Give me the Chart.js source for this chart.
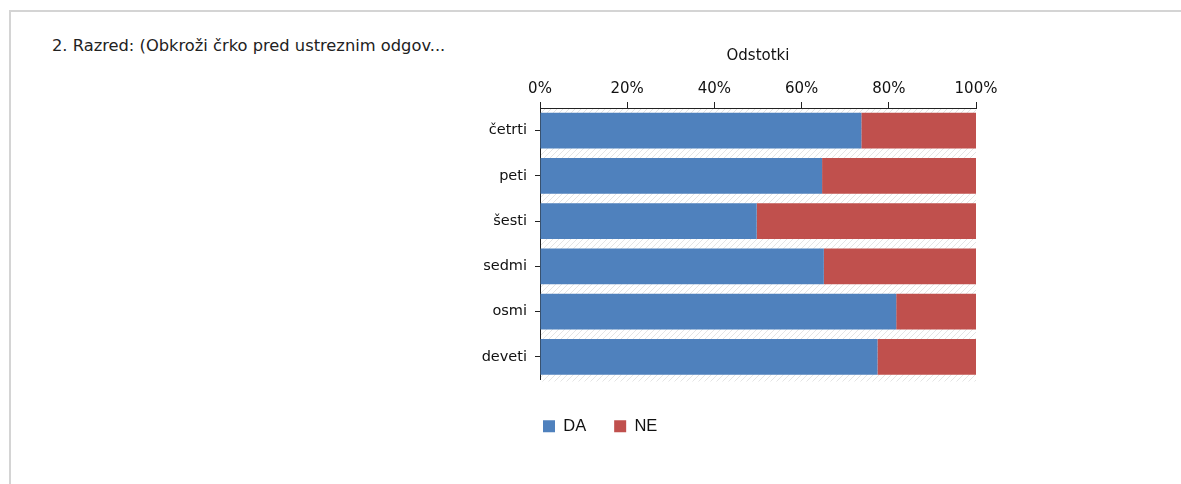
<!DOCTYPE html>
<html>
<head>
<meta charset="utf-8">
<script src="https://cdn.jsdelivr.net/npm/chart.js@4"></script>
<style>
  html,body{margin:0;padding:0;background:#fff;}
  #wrap{position:relative;width:1181px;height:484px;overflow:hidden;}
  #frame{position:absolute;left:9px;top:10px;width:1200px;height:500px;border-top:2px solid #d4d4d4;border-left:2px solid #d4d4d4;box-sizing:border-box;}
  #title{position:absolute;left:52px;top:36px;font-family:"DejaVu Sans",sans-serif;font-size:16.3px;color:#222;white-space:nowrap;}
  canvas{position:absolute;left:0;top:0;}
</style>
</head>
<body>
<div id="wrap">
  <div id="frame"></div>
  <div id="title">2. Razred: (Obkroži črko pred ustreznim odgov...</div>
  <canvas id="c" width="1181" height="484"></canvas>
</div>
<script>
const categories = ["četrti", "peti", "šesti", "sedmi", "osmi", "deveti"];
const daValues = [73.7, 64.7, 49.7, 65.1, 81.7, 77.4];
const neValues = [26.3, 35.3, 50.3, 34.9, 18.3, 22.6];
const seriesNames = ["DA", "NE"];
const axisTitle = "Odstotki";
const xTicks = [0, 20, 40, 60, 80, 100];

function hatch() {
  const p = document.createElement('canvas');
  p.width = 6; p.height = 6;
  const g = p.getContext('2d');
  g.fillStyle = '#ffffff'; g.fillRect(0,0,6,6);
  g.strokeStyle = '#e4e4e4'; g.lineWidth = 1;
  g.beginPath();
  g.moveTo(0,6); g.lineTo(6,0);
  g.moveTo(-1,1); g.lineTo(1,-1);
  g.moveTo(5,7); g.lineTo(7,5);
  g.stroke();
  return p;
}

const bgPlugin = {
  id: 'bgHatch',
  beforeDraw(chart) {
    const {ctx, chartArea: a} = chart;
    ctx.save();
    ctx.fillStyle = ctx.createPattern(hatch(), 'repeat');
    ctx.fillRect(a.left, a.top, a.right - a.left, a.bottom - a.top + 2);
    ctx.restore();
  }
};
const legendShift = {
  id: 'legendShift',
  afterLayout(chart) {
    const lg = chart.legend;
    if (lg) {
      const h = lg.bottom - lg.top;
      lg.left = chart.chartArea.left - 25;
      lg.top = 390; lg.bottom = 390 + h;
    }
  }
};

const tickFont = {family: "'DejaVu Sans', sans-serif", size: 15};
const catFont = {family: "'DejaVu Sans', sans-serif", size: 14.5};
new Chart(document.getElementById('c'), {
  type: 'bar',
  data: {
    labels: categories,
    datasets: [
      {label: seriesNames[0], data: daValues, backgroundColor: '#4f81bd', barPercentage: 0.79, categoryPercentage: 1},
      {label: seriesNames[1], data: neValues, backgroundColor: '#c0504d', barPercentage: 0.79, categoryPercentage: 1}
    ]
  },
  plugins: [bgPlugin, legendShift],
  options: {
    indexAxis: 'y',
    responsive: false,
    animation: false,
    layout: {padding: {left: 470, right: 205, top: 47, bottom: 50}},
    plugins: {
      legend: {
        position: 'bottom', align: 'start',
        labels: {boxWidth: 12, boxHeight: 12, padding: 28, color: '#111',
          font: {family: "'Liberation Sans', Arial, sans-serif", size: 16.5}}
      },
      tooltip: {enabled: false}
    },
    scales: {
      x: {
        position: 'top', stacked: true, min: 0, max: 100,
        afterBuildTicks(s) { s.ticks = xTicks.map(v => ({value: v})); },
        ticks: {callback: v => v + '%', color: '#111', font: tickFont, padding: 4, maxRotation: 0},
        grid: {drawOnChartArea: false, drawTicks: true, tickLength: 6, color: '#222', tickColor: '#222'},
        border: {display: true, color: '#222', width: 1},
        title: {display: true, text: axisTitle, color: '#111', font: tickFont, padding: {top: 0, bottom: 11}}
      },
      y: {
        stacked: true,
        afterFit(s) { s.width = 70; },
        ticks: {color: '#111', font: catFont, padding: 8},
        grid: {offset: false, drawOnChartArea: false, drawTicks: true, tickLength: 5, color: '#222', tickColor: '#222'},
        border: {display: true, color: '#222', width: 1}
      }
    }
  }
});
</script>
</body>
</html>
